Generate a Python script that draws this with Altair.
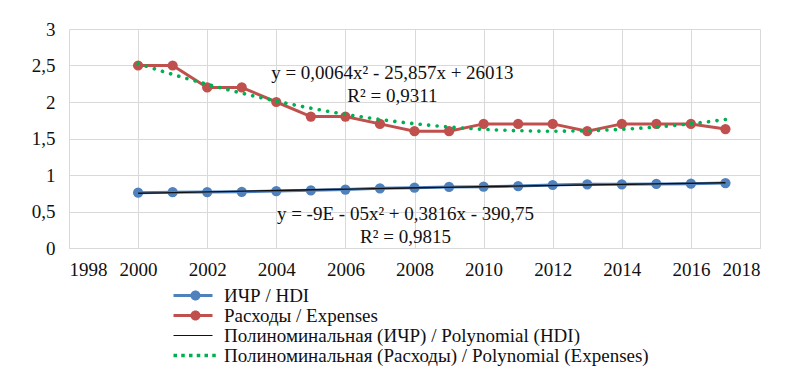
import altair as alt
import pandas as pd

years = list(range(2000, 2018))
hdi = [0.757, 0.765, 0.767, 0.770, 0.780, 0.790, 0.800, 0.818, 0.826, 0.836,
       0.840, 0.849, 0.863, 0.872, 0.872, 0.877, 0.881, 0.890]
expenses = [2.5, 2.5, 2.2, 2.2, 2.0, 1.8, 1.8, 1.7, 1.6, 1.6,
            1.7, 1.7, 1.7, 1.6, 1.7, 1.7, 1.7, 1.63]

labels = [
    "ИЧР / HDI",
    "Расходы / Expenses",
    "Полиноминальная (ИЧР) / Polynomial (HDI)",
    "Полиноминальная (Расходы) / Polynomial (Expenses)",
]
eq_exp = ["y = 0,0064x² - 25,857x + 26013", "R² = 0,9311"]
eq_hdi = ["y = -9E - 05x² + 0,3816x - 390,75", "R² = 0,9815"]

x_ticks = list(range(1998, 2019, 2))
y_ticks = [0, 0.5, 1, 1.5, 2, 2.5, 3]

BLUE = "#4F81BD"
RED = "#C0504D"
GREEN = "#00B050"
BLACK = "#111111"
FONT = "Liberation Serif"
FS = 19

df = pd.DataFrame({
    "year": years * 2,
    "value": hdi + expenses,
    "series": [labels[0]] * len(years) + [labels[1]] * len(years),
})

base = alt.Chart(df)

x_scale = alt.Scale(domain=[1998, 2018], nice=False, zero=False)
y_scale = alt.Scale(domain=[0, 3], nice=False)
x_axis = alt.Axis(values=x_ticks, format="d", title=None, ticks=False,
                  grid=True, labelPadding=12, labelOverlap=False,
                  labelFont=FONT, labelFontSize=FS, labelColor="#111")
y_axis = alt.Axis(values=y_ticks, title=None, ticks=False, domain=False,
                  grid=True, labelPadding=14, labelOverlap=False,
                  labelFont=FONT, labelFontSize=FS, labelColor="#111",
                  labelExpr="replace(toString(datum.value), '.', ',')")
X = alt.X("year:Q", scale=x_scale, axis=x_axis)
Y = alt.Y("value:Q", scale=y_scale, axis=y_axis)


def series_layer(name, color):
    sub = base.transform_filter(alt.datum.series == name)
    line = sub.mark_line(color=color, strokeWidth=3).encode(x=X, y=Y)
    pts = sub.mark_point(filled=True, color=color, size=105, opacity=1).encode(x=X, y=Y)
    return line + pts


def trend_layer(name, **style):
    return base.transform_filter(alt.datum.series == name).transform_regression(
        "year", "value", method="poly", order=2
    ).mark_line(**style).encode(x=X, y=Y)


hdi_layer = series_layer(labels[0], BLUE)
exp_layer = series_layer(labels[1], RED)
hdi_trend = trend_layer(labels[0], color=BLACK, strokeWidth=1.4)
exp_trend = trend_layer(labels[1], color=GREEN, strokeWidth=3.6,
                        strokeCap="round", strokeDash=[0.1, 8.4])

line_circle = ("M-1,-0.3H6.8V0.3H-1Z"
               "M4.4,0A1,1,0,1,1,2.4,0A1,1,0,1,1,4.4,0Z")
thin_line = "M-1,-0.12H6.8V0.12H-1Z"
dots = "".join(
    f"M{-1 + i * 1.55:.2f},-0.35h0.7v0.7h-0.7Z" for i in range(6)
)

leg = dict(title=None, orient="none", legendX=100, legendY=257,
           symbolOpacity=1, symbolSize=100, symbolStrokeWidth=0,
           labelOffset=36, labelFont=FONT, labelFontSize=FS,
           labelColor="#111", rowPadding=0, padding=0, labelLimit=600)

legend_layer = base.mark_point(filled=True, opacity=0).encode(
    x=X, y=Y,
    color=alt.Color("series:N",
                    scale=alt.Scale(domain=labels, range=[BLUE, RED, BLACK, GREEN]),
                    legend=alt.Legend(**leg)),
    shape=alt.Shape("series:N",
                    scale=alt.Scale(domain=labels, range=[line_circle, line_circle, thin_line, dots]),
                    legend=alt.Legend(**leg)),
)


def text_layer(txt, xv, yv):
    return alt.Chart(pd.DataFrame({"t": [txt]})).mark_text(
        font=FONT, fontSize=FS, color="#111", align="center", baseline="middle"
    ).encode(x=alt.X(datum=xv, scale=x_scale, axis=x_axis),
             y=alt.Y(datum=yv, scale=y_scale, axis=y_axis), text="t:N")


texts = (text_layer(eq_exp[0], 2007.36, 2.40) + text_layer(eq_exp[1], 2007.36, 2.08)
         + text_layer(eq_hdi[0], 2007.74, 0.466) + text_layer(eq_hdi[1], 2007.74, 0.15))

chart = alt.layer(
    hdi_layer, exp_layer, hdi_trend, exp_trend, texts, legend_layer
).properties(
    width=691, height=219,
    autosize=alt.AutoSizeParams(type="none"),
    padding={"left": 61, "top": 21, "right": 30, "bottom": 118},
).configure(
    font=FONT,
).configure_axis(
    gridColor="#D9D9D9", domainColor="#D9D9D9", gridWidth=1,
).configure_view(stroke=None)

chart.save("out.html", embed_options={"renderer": "svg", "actions": False})
